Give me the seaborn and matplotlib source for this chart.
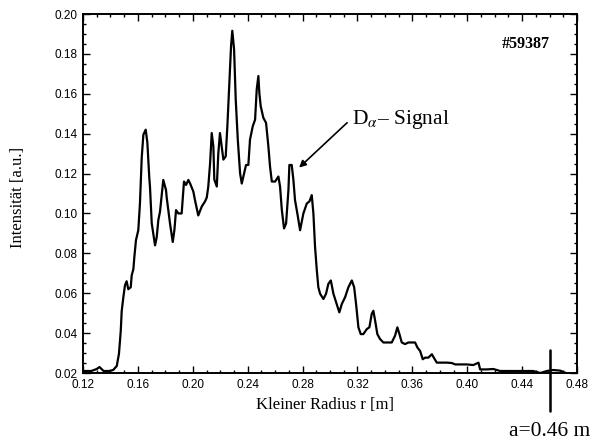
import numpy as np
import matplotlib
matplotlib.use("Agg")
import matplotlib.pyplot as plt
from matplotlib.ticker import MultipleLocator, FormatStrFormatter
import seaborn as sns

# Minor radius r [m] and D-alpha intensity [a.u.], shot #59387
radius = [
    0.121, 0.126, 0.130, 0.132, 0.135, 0.139, 0.142, 0.1446, 0.1462, 0.1475,
    0.1482, 0.1494, 0.1506, 0.1518, 0.1530, 0.1548, 0.1555, 0.1567, 0.1574, 0.1586,
    0.1603, 0.1615, 0.1628, 0.1640, 0.1657, 0.1669, 0.1683, 0.1688, 0.1701, 0.1725,
    0.1737, 0.1749, 0.1761, 0.1785, 0.1805, 0.1810, 0.1834, 0.1854, 0.1866, 0.1878,
    0.1895, 0.1919, 0.1931, 0.1936, 0.1951, 0.1968, 0.1980, 0.2004, 0.2016, 0.2040,
    0.2065, 0.2089, 0.2102, 0.2113, 0.2126, 0.2138, 0.2150, 0.2157, 0.2175, 0.2186,
    0.2198, 0.2211, 0.2223, 0.2240, 0.2252, 0.2267, 0.2279, 0.2288, 0.2301, 0.2313,
    0.2328, 0.2345, 0.2357, 0.2374, 0.2388, 0.2405, 0.2417, 0.2437, 0.2454, 0.2466,
    0.2478, 0.2485, 0.2495, 0.2514, 0.2534, 0.2551, 0.2563, 0.2576, 0.2600, 0.2624,
    0.2636, 0.2649, 0.2665, 0.2680, 0.2697, 0.2704, 0.2721, 0.2733, 0.2745, 0.2762,
    0.2782, 0.2806, 0.2831, 0.2850, 0.2867, 0.2879, 0.2891, 0.2904, 0.2915, 0.2928,
    0.2952, 0.2971, 0.2988, 0.3006, 0.3025, 0.3049, 0.3068, 0.3086, 0.3110, 0.3134,
    0.3159, 0.3176, 0.3190, 0.3207, 0.3224, 0.3243, 0.3268, 0.3287, 0.3304, 0.3316,
    0.3329, 0.3345, 0.3365, 0.3389, 0.3426, 0.3450, 0.3474, 0.3491, 0.3506, 0.3523,
    0.3547, 0.3571, 0.3596, 0.3620, 0.3637, 0.3657, 0.3676, 0.3693, 0.3717, 0.3742,
    0.3778, 0.3802, 0.3851, 0.3888, 0.3912, 0.3948, 0.3997, 0.4045, 0.4082, 0.4094,
    0.4143, 0.4191, 0.4240, 0.4289, 0.4335, 0.4481, 0.4532, 0.4580, 0.4626, 0.4677,
    0.4719,
]
intensity = [
    0.021, 0.021, 0.022, 0.023, 0.021, 0.021, 0.0215, 0.0235, 0.0296, 0.041,
    0.051, 0.058, 0.064, 0.066, 0.062, 0.063, 0.069, 0.072, 0.078, 0.0866,
    0.0916, 0.105, 0.128, 0.1395, 0.142, 0.1355, 0.118, 0.1135, 0.095, 0.084,
    0.088, 0.0967, 0.1008, 0.1168, 0.1117, 0.108, 0.095, 0.0857, 0.0916, 0.1017,
    0.100, 0.100, 0.1117, 0.116, 0.1143, 0.1168, 0.1151, 0.111, 0.1067, 0.099,
    0.1034, 0.106, 0.108, 0.1135, 0.125, 0.1403, 0.1336, 0.117, 0.1135, 0.130,
    0.1403, 0.1336, 0.127, 0.1286, 0.1437, 0.1655, 0.184, 0.1916, 0.1823, 0.1571,
    0.137, 0.120, 0.115, 0.120, 0.1243, 0.1243, 0.137, 0.1437, 0.147, 0.1622,
    0.1689, 0.1605, 0.1538, 0.148, 0.1454, 0.1336, 0.1235, 0.116, 0.116, 0.1185,
    0.1135, 0.1017, 0.0925, 0.095, 0.1117, 0.1243, 0.1243, 0.117, 0.1067, 0.100,
    0.0916, 0.100, 0.105, 0.106, 0.1092, 0.100, 0.0833, 0.0714, 0.063, 0.0597,
    0.0571, 0.0597, 0.0647, 0.0664, 0.0597, 0.0546, 0.0504, 0.0546, 0.058, 0.063,
    0.0664, 0.063, 0.0546, 0.0429, 0.0395, 0.0395, 0.042, 0.0429, 0.0496, 0.0512,
    0.0462, 0.0395, 0.037, 0.0353, 0.0353, 0.0353, 0.0387, 0.0429, 0.0395, 0.0353,
    0.0345, 0.0353, 0.0353, 0.0353, 0.0328, 0.031, 0.0269, 0.0277, 0.0277, 0.0294,
    0.0252, 0.0252, 0.0252, 0.025, 0.0243, 0.0243, 0.0243, 0.024, 0.0252, 0.0218,
    0.0218, 0.022, 0.021, 0.021, 0.021, 0.021, 0.020, 0.021, 0.0215, 0.0212,
    0.020,
]

x_ticks = [0.12, 0.16, 0.20, 0.24, 0.28, 0.32, 0.36, 0.40, 0.44, 0.48]
y_ticks = [0.02, 0.04, 0.06, 0.08, 0.10, 0.12, 0.14, 0.16, 0.18, 0.20]
minor_radius = 0.46

sns.set_theme(style="ticks")
plt.rcParams["font.family"] = ["Liberation Serif", "DejaVu Serif"]
plt.rcParams["mathtext.fontset"] = "stix"

fig = plt.figure(figsize=(5.94, 4.44), dpi=100)
ax = fig.add_axes([83 / 594, 1 - 373 / 444, 494 / 594, 359 / 444])

sns.lineplot(x=radius, y=intensity, ax=ax, color="black", linewidth=1.6,
             sort=False)

ax.set_xlim(0.12, 0.48)
ax.set_ylim(0.02, 0.20)
ax.set_xticks(x_ticks)
ax.set_yticks(y_ticks)
ax.xaxis.set_minor_locator(MultipleLocator(0.01))
ax.yaxis.set_minor_locator(MultipleLocator(0.005))
ax.xaxis.set_major_formatter(FormatStrFormatter("%.2f"))
ax.yaxis.set_major_formatter(FormatStrFormatter("%.2f"))
ax.tick_params(which="both", direction="in", top=True, right=True,
               color="black", width=1.0)
ax.tick_params(which="major", length=5, pad=4)
ax.tick_params(which="minor", length=2.5)
for lab in ax.get_xticklabels() + ax.get_yticklabels():
    lab.set_fontfamily("Liberation Sans")
    lab.set_fontsize(8.5)
    lab.set_color("black")
for s in ax.spines.values():
    s.set_linewidth(1.4)
    s.set_color("black")

ax.set_xlabel("Kleiner Radius r [m]", fontsize=12, color="black")
ax.set_ylabel("Intensität [a.u.]", fontsize=12, color="black")
ax.xaxis.set_label_coords(0.49, -0.068)
ax.yaxis.set_label_coords(-0.115, 0.49)

ax.text(0.4605, 0.1848, "#59387", fontsize=11.5, fontweight="bold",
        ha="right", va="center", color="black")

ax.annotate("", xy=(0.2775, 0.1230), xytext=(0.3125, 0.1455),
            arrowprops=dict(arrowstyle="-|>", color="black", lw=1.2,
                            mutation_scale=10, shrinkA=0, shrinkB=0))
ax.text(0.316, 0.147, r"D$_{\alpha}$– Signal", fontsize=15.5,
        ha="left", va="center", color="black")

# plasma edge marker a = 0.46 m, extending below the frame
ax.axvline(minor_radius, ymin=-0.107, ymax=0.064, color="black", lw=1.8,
           clip_on=False)
fig.text(550 / 594, 1 - 431 / 444, f"a={minor_radius:.2f} m", fontsize=15.5,
         ha="center", va="center", color="black")

fig.savefig("out.png", dpi=100)
